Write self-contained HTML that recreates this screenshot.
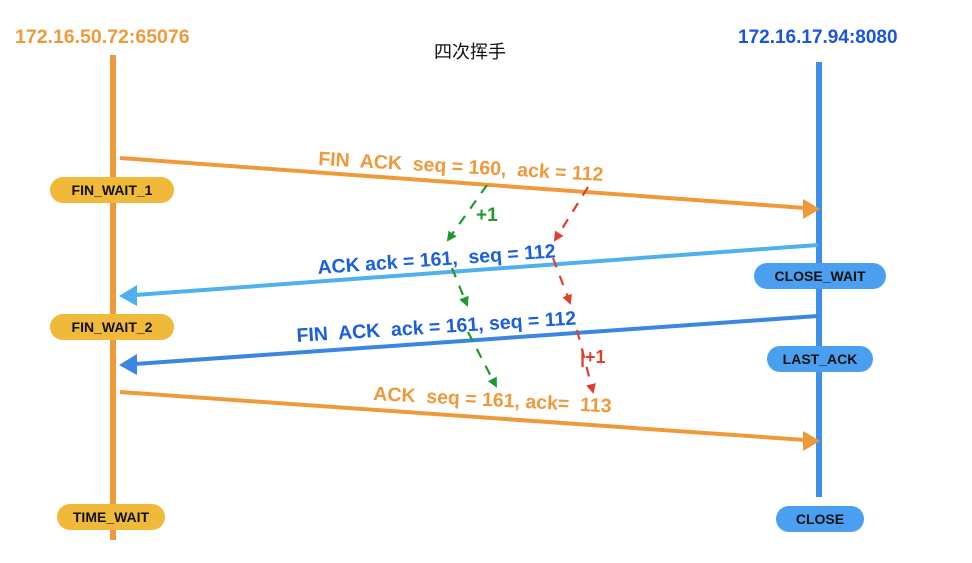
<!DOCTYPE html>
<html><head><meta charset="utf-8"><style>
body{margin:0;background:#fff;}
svg{display:block;font-family:"Liberation Sans","Noto Sans CJK SC",sans-serif;}
</style></head><body>
<svg width="972" height="563" viewBox="0 0 972 563">
<defs>
<marker id="g" markerWidth="10" markerHeight="10" refX="8" refY="5" orient="auto" markerUnits="userSpaceOnUse"><path d="M0,0 L10,5 L0,10 Z" fill="#1f9a2a"/></marker>
<marker id="r" markerWidth="10" markerHeight="10" refX="8" refY="5" orient="auto" markerUnits="userSpaceOnUse"><path d="M0,0 L10,5 L0,10 Z" fill="#e0402a"/></marker>
</defs>
<rect width="972" height="563" fill="#fff"/>
<text x="15" y="43" font-size="19.5" font-weight="bold" fill="#f0993a">172.16.50.72:65076</text>
<text x="738" y="43" font-size="19" font-weight="bold" fill="#1a55e0">172.16.17.94:8080</text>
<text x="470" y="58" font-size="18" text-anchor="middle" fill="#111">四次挥手</text>
<line x1="113" y1="55" x2="113" y2="540" stroke="#f0993a" stroke-width="6"/>
<line x1="819" y1="62" x2="819" y2="497" stroke="#3d8fe8" stroke-width="6"/>
<line x1="120" y1="158" x2="805" y2="208" stroke="#f0993a" stroke-width="4"/>
<path d="M803,199 L820,209 L803,219 Z" fill="#f0993a"/>
<line x1="818" y1="245" x2="135" y2="295" stroke="#4fb0ec" stroke-width="4"/>
<path d="M137,285 L119,296 L137,306 Z" fill="#4fb0ec"/>
<line x1="818" y1="316" x2="135" y2="364" stroke="#3a86e0" stroke-width="4"/>
<path d="M137,354 L119,365 L137,375 Z" fill="#3a86e0"/>
<line x1="120" y1="392" x2="805" y2="440" stroke="#f0993a" stroke-width="4"/>
<path d="M803,431 L820,441 L803,451 Z" fill="#f0993a"/>
<text x="318" y="165" font-size="19.5" font-weight="bold" fill="#f0993a" transform="rotate(3.2 318 165)" xml:space="preserve">FIN  ACK  seq = 160,  ack = 112</text>
<text x="318" y="274" font-size="19.5" font-weight="bold" fill="#1a5fe0" transform="rotate(-4 318 274)" xml:space="preserve">ACK ack = 161,  seq = 112</text>
<text x="297" y="342" font-size="19.5" font-weight="bold" fill="#1a5fe0" transform="rotate(-3.6 297 342)" xml:space="preserve">FIN  ACK  ack = 161, seq = 112</text>
<text x="373" y="400" font-size="19.5" font-weight="bold" fill="#f0993a" transform="rotate(3 373 400)" xml:space="preserve">ACK  seq = 161, ack=  113</text>
<g stroke-width="2.2" stroke-dasharray="10,9" fill="none">
<line x1="487" y1="185" x2="448" y2="240" stroke="#1f9a2a" marker-end="url(#g)"/>
<line x1="452" y1="268" x2="467" y2="305" stroke="#1f9a2a" marker-end="url(#g)"/>
<line x1="468" y1="332" x2="496" y2="386" stroke="#1f9a2a" marker-end="url(#g)"/>
<line x1="588" y1="187" x2="555" y2="240" stroke="#e0402a" marker-end="url(#r)"/>
<line x1="553" y1="258" x2="570" y2="303" stroke="#e0402a" marker-end="url(#r)"/>
<line x1="577" y1="330" x2="593" y2="392" stroke="#e0402a" marker-end="url(#r)"/>
</g>
<text x="476" y="221" font-size="19" font-weight="bold" fill="#1f9a2a">+1</text>
<text x="580" y="363" font-size="18" font-weight="bold" fill="#e0402a">|+1</text>
<g font-size="14" font-weight="bold" text-anchor="middle" fill="#111">
<rect x="50" y="177" width="124" height="26" rx="13" fill="#f0b93a"/><text x="112" y="195">FIN_WAIT_1</text>
<rect x="50" y="314" width="124" height="26" rx="13" fill="#f0b93a"/><text x="112" y="332">FIN_WAIT_2</text>
<rect x="57" y="504" width="108" height="26" rx="13" fill="#f0b93a"/><text x="111" y="522">TIME_WAIT</text>
<rect x="754" y="263" width="132" height="26" rx="13" fill="#4a9ff0"/><text x="820" y="281">CLOSE_WAIT</text>
<rect x="767" y="346" width="106" height="26" rx="13" fill="#4a9ff0"/><text x="820" y="364">LAST_ACK</text>
<rect x="776" y="506" width="88" height="26" rx="13" fill="#4a9ff0"/><text x="820" y="524">CLOSE</text>
</g>
</svg>
</body></html>
